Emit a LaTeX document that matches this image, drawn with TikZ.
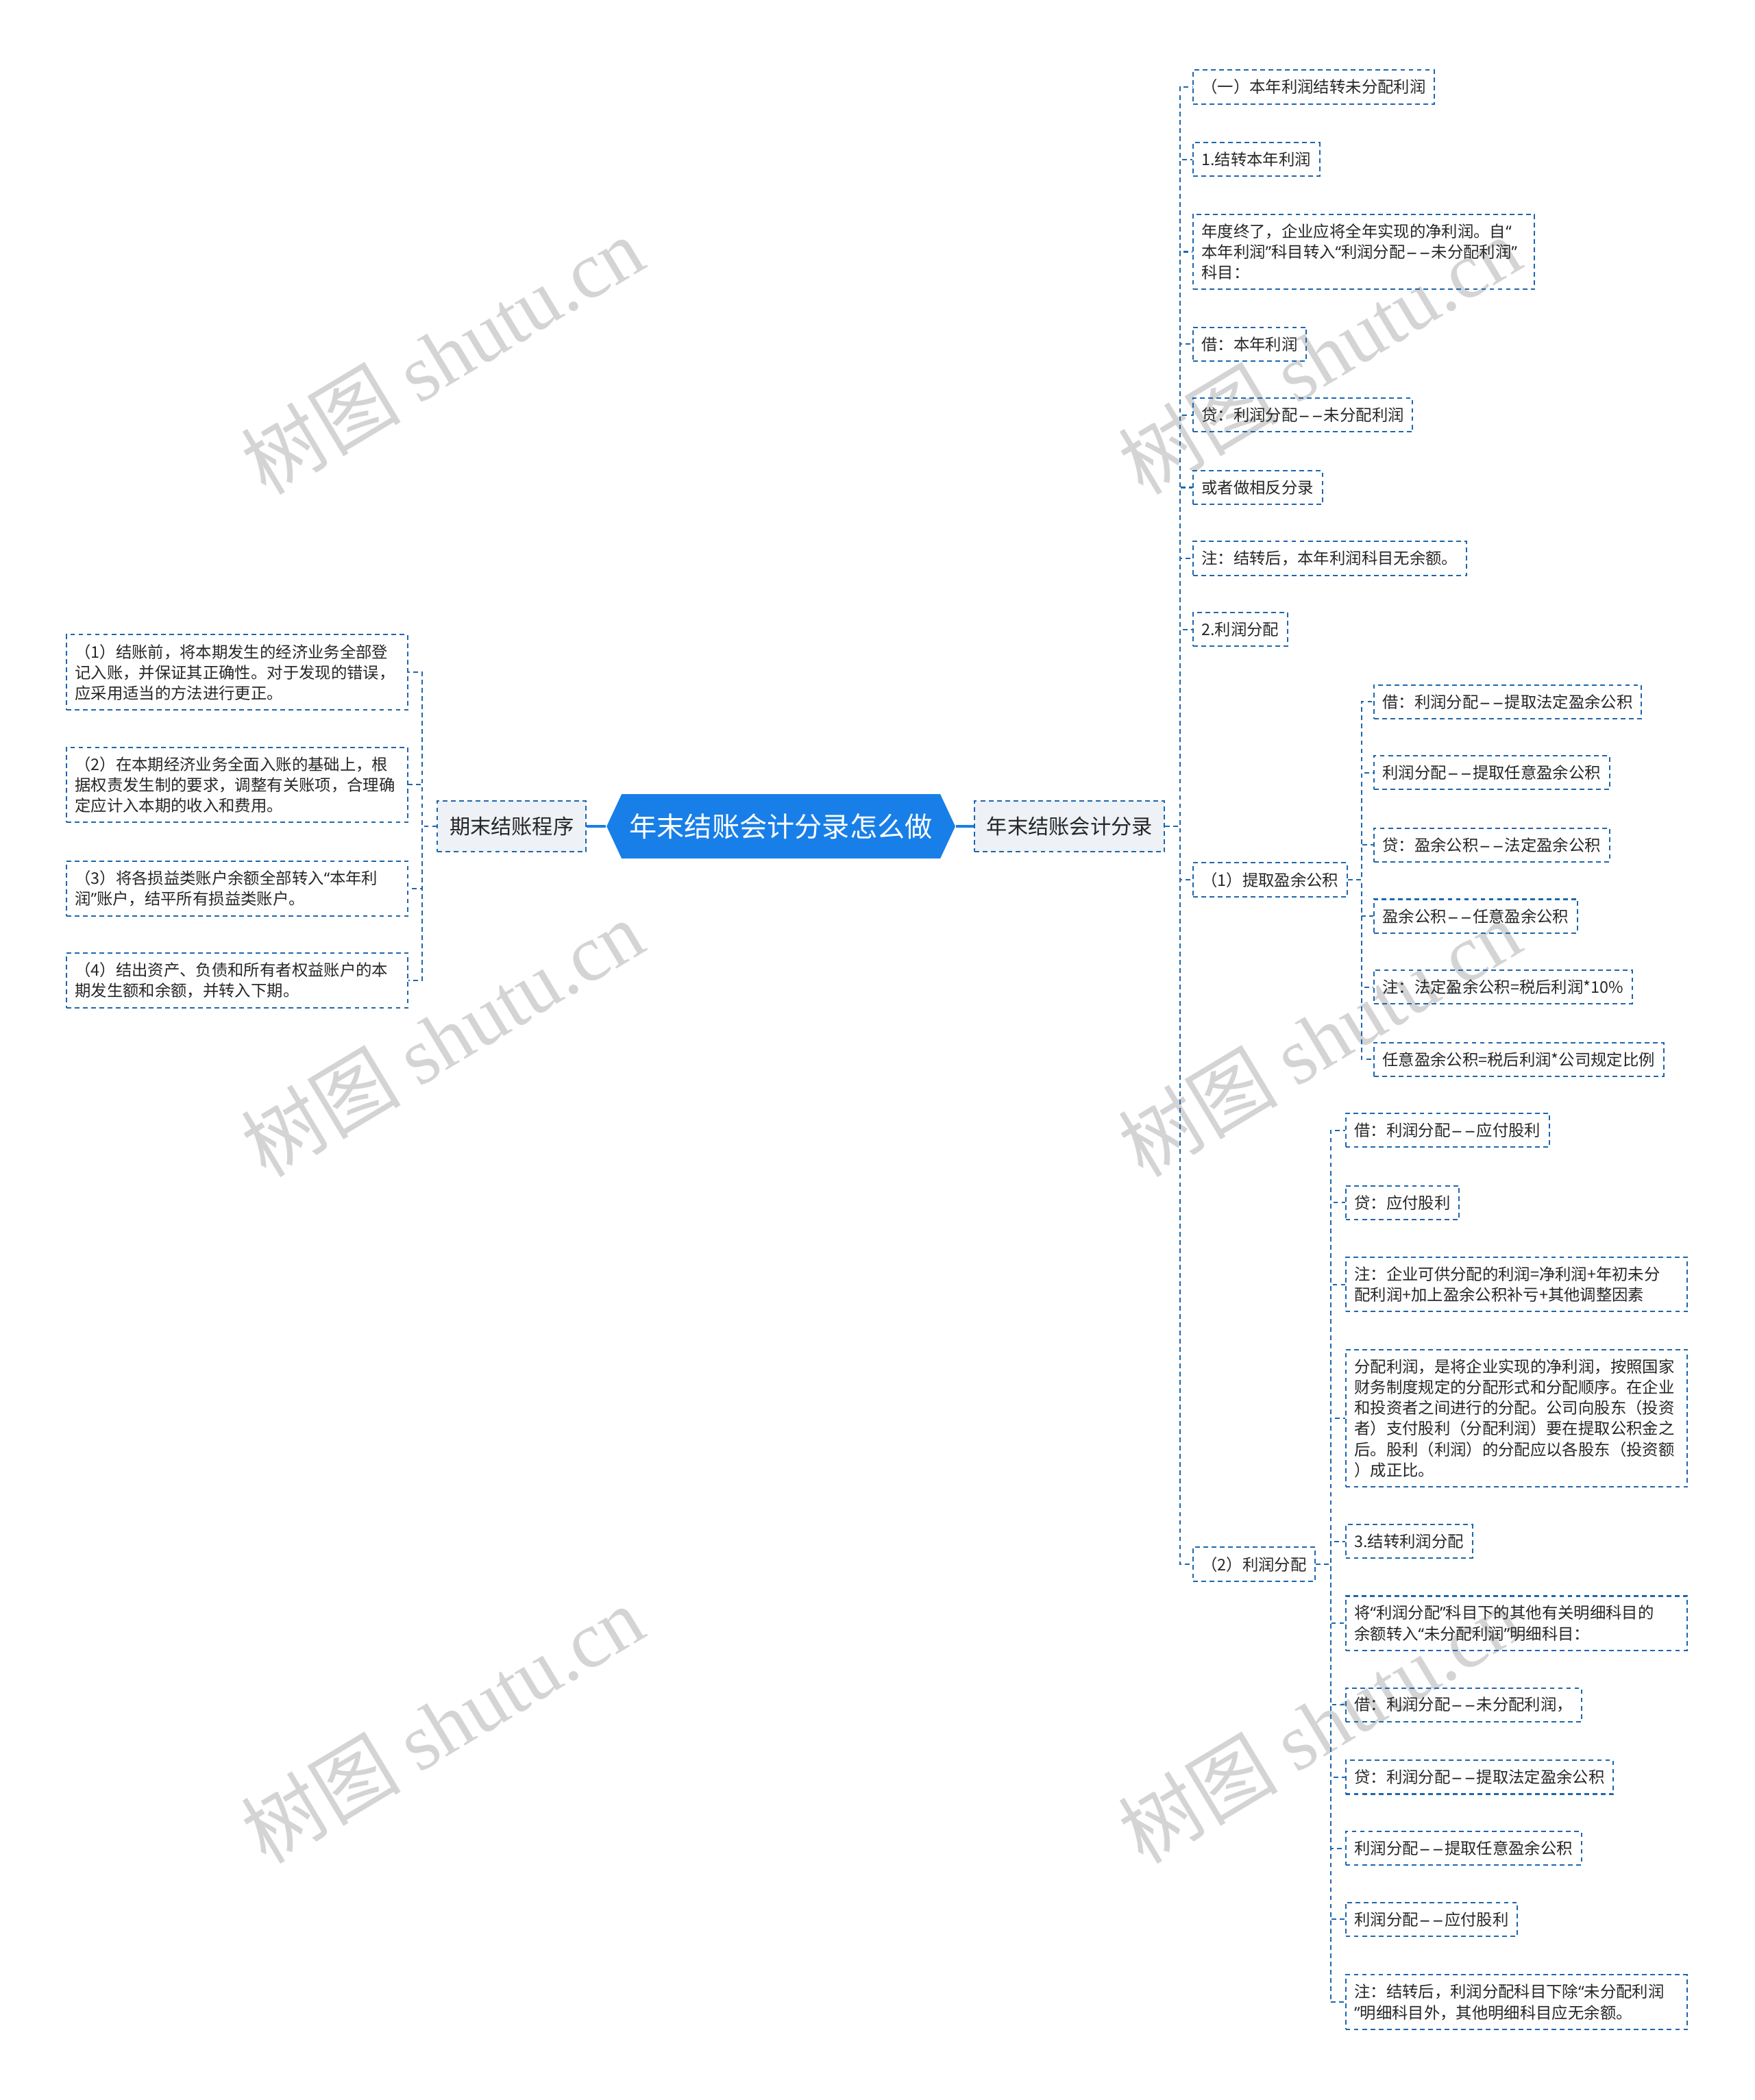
\documentclass[tikz,border=0pt]{standalone}
\usepackage{fontspec}
\setmainfont{Noto Sans CJK SC}
\newfontfamily\markfont{Liberation Serif}
\newfontfamily\quotefont{Noto Sans}
\newcommand{\openq}{{\quotefont “}}
\newcommand{\closeq}{{\quotefont ”}}
\newcommand{\ddash}{\makebox[0.82em]{\scalebox{1.3}[1]{\quotefont –}}\makebox[0.82em]{\scalebox{1.3}[1]{\quotefont –}}}
\usetikzlibrary{positioning, shapes.symbols, calc}
\definecolor{LineBlue}{RGB}{30,102,172}
\definecolor{RootBlue}{RGB}{24,127,232}
\definecolor{TopicGray}{RGB}{238,241,246}
\definecolor{MarkGray}{RGB}{212,212,212}
\tikzset{
  link/.style={draw=LineBlue, line width=0.6pt, dash pattern=on 2pt off 1.5pt},
  leaf/.style={link, text=black!85, font=\fontsize{6.8pt}{8.8pt}\selectfont,
    inner xsep=0.13cm, inner ysep=0.14cm, align=left},
  wide/.style={leaf, text width=4.84cm},
  topic/.style={link, fill=TopicGray, text=black!85, font=\fontsize{8.8pt}{10pt}\selectfont,
    minimum height=0.76cm, inner xsep=0.18cm},
  root/.style={signal, signal to=east and west, signal pointer angle=130, fill=RootBlue,
    text=white, font=\fontsize{11.7pt}{13pt}\selectfont, minimum width=5cm, minimum height=0.96cm},
  wmark/.style={text=MarkGray, font=\fontsize{34pt}{34pt}\selectfont, rotate=31}
}

\begin{document}
\begin{tikzpicture}
  \useasboundingbox (0,0) rectangle (26.2,-31.36);

  % watermarks
  \node[wmark] (W1) at (6.6,-5.3) {树图 {\markfont shutu.cn}};
  \node[wmark] (W2) at (19.7,-5.3) {树图 {\markfont shutu.cn}};
  \node[wmark] (W3) at (6.6,-15.5) {树图 {\markfont shutu.cn}};
  \node[wmark] (W4) at (19.7,-15.5) {树图 {\markfont shutu.cn}};
  \node[wmark] (W5) at (6.6,-25.75) {树图 {\markfont shutu.cn}};
  \node[wmark] (W6) at (19.7,-25.75) {树图 {\markfont shutu.cn}};

  % root and main topics
  \node[root] (Root) at (11.66,-12.34) {年末结账会计分录怎么做};
  \node[topic] (QM) at (7.64,-12.34) {期末结账程序};
  \node[topic] (NM) at (15.97,-12.34) {年末结账会计分录};
  \draw[RootBlue, line width=1.4pt] (Root.west) -- (QM.east);
  \draw[RootBlue, line width=1.4pt] (Root.east) -- (NM.west);

  % left: closing steps
  \node[wide, anchor=east] (Q1) at (6.1,-10.04) {（1）结账前，将本期发生的经济业务全部登\\记入账，并保证其正确性。对于发现的错误，\\应采用适当的方法进行更正。};
  \node[wide, anchor=east] (Q2) at (6.1,-11.72) {（2）在本期经济业务全面入账的基础上，根\\据权责发生制的要求，调整有关账项，合理确\\定应计入本期的收入和费用。};
  \node[wide, anchor=east] (Q3) at (6.1,-13.27) {（3）将各损益类账户余额全部转入\openq 本年利\\润\closeq 账户，结平所有损益类账户。};
  \node[wide, anchor=east] (Q4) at (6.1,-14.64) {（4）结出资产、负债和所有者权益账户的本\\期发生额和余额，并转入下期。};
  \draw[link] (QM.west) -- ++(-0.22,0) |- (Q1.east);
  \draw[link] (QM.west) -- ++(-0.22,0) |- (Q2.east);
  \draw[link] (QM.west) -- ++(-0.22,0) |- (Q3.east);
  \draw[link] (QM.west) -- ++(-0.22,0) |- (Q4.east);

  % right: entries
  \node[leaf, anchor=west] (N1) at (17.8,-1.3) {（一）本年利润结转未分配利润};
  \node[leaf, anchor=west] (N2) at (17.8,-2.38) {1.结转本年利润};
  \node[wide, anchor=west] (N3) at (17.8,-3.76) {年度终了，企业应将全年实现的净利润。自\openq\\本年利润\closeq 科目转入\openq 利润分配\ddash 未分配利润\closeq\\科目：};
  \node[leaf, anchor=west] (N4) at (17.8,-5.14) {借：本年利润};
  \node[leaf, anchor=west] (N5) at (17.8,-6.2) {贷：利润分配\ddash 未分配利润};
  \node[leaf, anchor=west] (N6) at (17.8,-7.28) {或者做相反分录};
  \node[leaf, anchor=west] (N7) at (17.8,-8.34) {注：结转后，本年利润科目无余额。};
  \node[leaf, anchor=west] (N8) at (17.8,-9.4) {2.利润分配};
  \node[leaf, anchor=west] (N9) at (17.8,-13.14) {（1）提取盈余公积};
  \node[leaf, anchor=west] (N10) at (17.8,-23.36) {（2）利润分配};
  \draw[link] (NM.east) -- ++(0.22,0) |- (N1.west);
  \draw[link] (NM.east) -- ++(0.22,0) |- (N2.west);
  \draw[link] (NM.east) -- ++(0.22,0) |- (N3.west);
  \draw[link] (NM.east) -- ++(0.22,0) |- (N4.west);
  \draw[link] (NM.east) -- ++(0.22,0) |- (N5.west);
  \draw[link] (NM.east) -- ++(0.22,0) |- (N6.west);
  \draw[link] (NM.east) -- ++(0.22,0) |- (N7.west);
  \draw[link] (NM.east) -- ++(0.22,0) |- (N8.west);
  \draw[link] (NM.east) -- ++(0.22,0) |- (N9.west);
  \draw[link] (NM.east) -- ++(0.22,0) |- (N10.west);

  % (1) surplus reserve
  \node[leaf, anchor=west] (T1) at (20.5,-10.48) {借：利润分配\ddash 提取法定盈余公积};
  \node[leaf, anchor=west] (T2) at (20.5,-11.54) {利润分配\ddash 提取任意盈余公积};
  \node[leaf, anchor=west] (T3) at (20.5,-12.62) {贷：盈余公积\ddash 法定盈余公积};
  \node[leaf, anchor=west] (T4) at (20.5,-13.68) {盈余公积\ddash 任意盈余公积};
  \node[leaf, anchor=west] (T5) at (20.5,-14.74) {注：法定盈余公积=税后利润*10\%};
  \node[leaf, anchor=west] (T6) at (20.5,-15.82) {任意盈余公积=税后利润*公司规定比例};
  \draw[link] (N9.east) -- ++(0.2,0) |- (T1.west);
  \draw[link] (N9.east) -- ++(0.2,0) |- (T2.west);
  \draw[link] (N9.east) -- ++(0.2,0) |- (T3.west);
  \draw[link] (N9.east) -- ++(0.2,0) |- (T4.west);
  \draw[link] (N9.east) -- ++(0.2,0) |- (T5.west);
  \draw[link] (N9.east) -- ++(0.2,0) |- (T6.west);

  % (2) profit distribution
  \node[leaf, anchor=west] (F1) at (20.08,-16.88) {借：利润分配\ddash 应付股利};
  \node[leaf, anchor=west] (F2) at (20.08,-17.96) {贷：应付股利};
  \node[wide, anchor=west] (F3) at (20.08,-19.18) {注：企业可供分配的利润=净利润+年初未分\\配利润+加上盈余公积补亏+其他调整因素};
  \node[wide, anchor=west] (F4) at (20.08,-21.18) {分配利润，是将企业实现的净利润，按照国家\\财务制度规定的分配形式和分配顺序。在企业\\和投资者之间进行的分配。公司向股东（投资\\者）支付股利（分配利润）要在提取公积金之\\后。股利（利润）的分配应以各股东（投资额\\）成正比。};
  \node[leaf, anchor=west] (F5) at (20.08,-23.02) {3.结转利润分配};
  \node[wide, anchor=west] (F6) at (20.08,-24.24) {将\openq 利润分配\closeq 科目下的其他有关明细科目的\\余额转入\openq 未分配利润\closeq 明细科目：};
  \node[leaf, anchor=west] (F7) at (20.08,-25.46) {借：利润分配\ddash 未分配利润，};
  \node[leaf, anchor=west] (F8) at (20.08,-26.54) {贷：利润分配\ddash 提取法定盈余公积};
  \node[leaf, anchor=west] (F9) at (20.08,-27.6) {利润分配\ddash 提取任意盈余公积};
  \node[leaf, anchor=west] (F10) at (20.08,-28.66) {利润分配\ddash 应付股利};
  \node[wide, anchor=west] (F11) at (20.08,-29.9) {注：结转后，利润分配科目下除\openq 未分配利润\\\closeq 明细科目外，其他明细科目应无余额。};
  \draw[link] (N10.east) -- ++(0.22,0) |- (F1.west);
  \draw[link] (N10.east) -- ++(0.22,0) |- (F2.west);
  \draw[link] (N10.east) -- ++(0.22,0) |- (F3.west);
  \draw[link] (N10.east) -- ++(0.22,0) |- (F4.west);
  \draw[link] (N10.east) -- ++(0.22,0) |- (F5.west);
  \draw[link] (N10.east) -- ++(0.22,0) |- (F6.west);
  \draw[link] (N10.east) -- ++(0.22,0) |- (F7.west);
  \draw[link] (N10.east) -- ++(0.22,0) |- (F8.west);
  \draw[link] (N10.east) -- ++(0.22,0) |- (F9.west);
  \draw[link] (N10.east) -- ++(0.22,0) |- (F10.west);
  \draw[link] (N10.east) -- ++(0.22,0) |- (F11.west);
\end{tikzpicture}
\end{document}
